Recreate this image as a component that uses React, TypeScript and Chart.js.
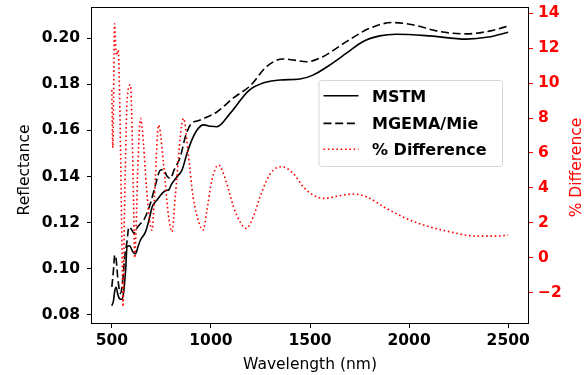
import React, { useEffect, useRef } from 'react';
import { Chart, registerables } from 'chart.js';

Chart.register(...registerables);

const mstmWavelength = [500, 508, 515, 522, 530, 540, 550, 560, 570, 577, 590, 605, 619, 632, 644, 670, 690, 704, 728, 754, 775, 787, 800, 829, 854, 879, 904, 930, 963, 1000, 1030, 1097, 1190, 1272, 1349, 1449, 1515, 1600, 1684, 1766, 1852, 1936, 2103, 2288, 2400, 2500];
const mstmReflectance = [0.0840, 0.0860, 0.0905, 0.0920, 0.0890, 0.0870, 0.0868, 0.0900, 0.1000, 0.1096, 0.1100, 0.1075, 0.1065, 0.1095, 0.1124, 0.1160, 0.1220, 0.1269, 0.1298, 0.1327, 0.1340, 0.1342, 0.1365, 0.1399, 0.1428, 0.1500, 0.1559, 0.1602, 0.1624, 0.1618, 0.1616, 0.1674, 0.1772, 0.1808, 0.1819, 0.1823, 0.1840, 0.1884, 0.1935, 0.1985, 0.2010, 0.2017, 0.2010, 0.1996, 0.2005, 0.2026];

const mgemaWavelength = [500, 508, 515, 522, 530, 544, 555, 565, 577, 586, 600, 611, 625, 644, 661, 695, 720, 745, 760, 780, 795, 815, 846, 871, 896, 946, 1030, 1112, 1200, 1282, 1364, 1420, 1483, 1565, 1684, 1801, 1917, 2018, 2153, 2288, 2417, 2500];
const mgemaReflectance = [0.0922, 0.0990, 0.1060, 0.1040, 0.0960, 0.0893, 0.0950, 0.1050, 0.1120, 0.1182, 0.1170, 0.1154, 0.1175, 0.1195, 0.1211, 0.1284, 0.1363, 0.1428, 0.1430, 0.1400, 0.1392, 0.1430, 0.1486, 0.1573, 0.1624, 0.1645, 0.1680, 0.1740, 0.1795, 0.1878, 0.1910, 0.1905, 0.1898, 0.1920, 0.1985, 0.2043, 0.2068, 0.2058, 0.2029, 0.2019, 0.2033, 0.2053];

const diffWavelength = [500, 505, 514, 518, 524, 532, 538, 545, 551, 557, 563, 568, 577, 594, 603, 610, 616, 622, 632, 645, 660, 675, 690, 703, 715, 736, 760, 785, 804, 820, 862, 885, 910, 940, 960, 980, 1005, 1038, 1080, 1114, 1147, 1178, 1214, 1248, 1282, 1315, 1357, 1415, 1466, 1516, 1566, 1667, 1717, 1785, 1885, 2003, 2103, 2204, 2338, 2439, 2500];
const diffPercent = [9.6, 6.3, 13.4, 12.5, 11.6, 11.9, 10.0, 5.5, 1.0, -2.8, 2.0, 5.0, 9.0, 9.9, 7.0, 3.0, 0.0, 1.5, 5.5, 7.98, 6.5, 4.0, 2.2, 1.58, 3.5, 7.6, 5.5, 2.5, 1.49, 3.5, 7.98, 6.0, 3.5, 2.0, 1.58, 2.73, 4.45, 5.31, 4.26, 2.92, 2.06, 1.68, 2.35, 3.49, 4.45, 5.02, 5.21, 4.83, 4.06, 3.59, 3.40, 3.59, 3.65, 3.49, 2.83, 2.16, 1.77, 1.49, 1.24, 1.24, 1.30];

const xTicks = [500, 1000, 1500, 2000, 2500];
const leftTicks = [0.08, 0.10, 0.12, 0.14, 0.16, 0.18, 0.20];
const rightTicks = [-2, 0, 2, 4, 6, 8, 10, 12, 14];
const seriesLabels = ['MSTM', 'MGEMA/Mie', '% Difference'];
const axisTitles = ['Wavelength (nm)', 'Reflectance', '% Difference'];

const FONT = 'DejaVu Sans';

const overlayPlugin = {
  id: 'overlay',
  afterDraw(chart: any) {
    const { ctx, chartArea: a } = chart;
    ctx.save();
    // axes frame
    ctx.strokeStyle = '#000';
    ctx.lineWidth = 1;
    ctx.strokeRect(a.left - 0.5, a.top - 0.5, a.right - a.left + 1, a.bottom - a.top + 1);

    // y titles (both read bottom to top)
    ctx.font = `15.5px "${FONT}"`;
    ctx.textAlign = 'center';
    ctx.textBaseline = 'middle';
    ctx.fillStyle = '#000';
    ctx.save();
    ctx.translate(25, 170);
    ctx.rotate(-Math.PI / 2);
    ctx.fillText(axisTitles[1], 0, 0);
    ctx.restore();
    ctx.save();
    ctx.fillStyle = '#ff0000';
    ctx.translate(576.5, 167.5);
    ctx.rotate(-Math.PI / 2);
    ctx.fillText(axisTitles[2], 0, 0);
    ctx.restore();

    // legend
    const bx = a.left + 226.5, by = a.top + 72, bw = 183.5, bh = 86;
    ctx.beginPath();
    if (ctx.roundRect) ctx.roundRect(bx + 0.5, by + 0.5, bw, bh, 3);
    else ctx.rect(bx + 0.5, by + 0.5, bw, bh);
    ctx.fillStyle = 'rgba(255,255,255,0.8)';
    ctx.fill();
    ctx.strokeStyle = '#d5d5d5';
    ctx.lineWidth = 1;
    ctx.stroke();
    const rows = [95.8, 123.4, 149.2];
    const legendDash = [[], [8, 3.7], [1.6, 2.7]];
    chart.data.datasets.forEach((ds: any, i: number) => {
      const y = by + (rows[i] - 80);
      ctx.beginPath();
      ctx.setLineDash(legendDash[i]);
      ctx.strokeStyle = ds.borderColor;
      ctx.lineWidth = ds.borderWidth;
      ctx.moveTo(bx + 5, y);
      ctx.lineTo(bx + 40, y);
      ctx.stroke();
      ctx.setLineDash([]);
      ctx.font = `bold 16px "${FONT}"`;
      ctx.textAlign = 'left';
      ctx.textBaseline = 'middle';
      ctx.fillStyle = '#000';
      ctx.fillText(ds.label, bx + 53.5, y + 1.7);
    });
    ctx.restore();
  },
};

export default function App() {
  const ref = useRef<HTMLCanvasElement>(null);
  useEffect(() => {
    document.body.style.margin = '0';
    const pts = (xs: number[], ys: number[]) => xs.map((x, i) => ({ x, y: ys[i] }));
    const tickFont = { family: FONT, size: 15.5, weight: 'bold' as const, lineHeight: 1 };
    const noPad = (s: any) => { s.paddingTop = 0; s.paddingBottom = 0; s.paddingLeft = 0; s.paddingRight = 0; };
    const chart = new Chart(ref.current as HTMLCanvasElement, {
      type: 'line',
      data: {
        datasets: [
          {
            label: seriesLabels[0],
            data: pts(mstmWavelength, mstmReflectance),
            yAxisID: 'y',
            borderColor: '#000000',
            borderWidth: 1.6,
            borderJoinStyle: 'round',
            pointRadius: 0,
            cubicInterpolationMode: 'monotone',
            order: 2,
          },
          {
            label: seriesLabels[1],
            data: pts(mgemaWavelength, mgemaReflectance),
            yAxisID: 'y',
            borderColor: '#000000',
            borderWidth: 1.6,
            borderDash: [8, 3.7],
            pointRadius: 0,
            cubicInterpolationMode: 'monotone',
            order: 1,
          },
          {
            label: seriesLabels[2],
            data: pts(diffWavelength, diffPercent),
            yAxisID: 'y1',
            borderColor: '#ff0000',
            borderWidth: 1.6,
            borderDash: [1.6, 2.7],
            pointRadius: 0,
            cubicInterpolationMode: 'monotone',
            order: 0,
          },
        ],
      },
      options: {
        animation: false,
        responsive: true,
        maintainAspectRatio: false,
        devicePixelRatio: 1,
        layout: { padding: { top: 8, left: 0, right: 0, bottom: 0 } },
        plugins: { legend: { display: false }, tooltip: { enabled: false } },
        scales: {
          x: {
            type: 'linear',
            min: 400,
            max: 2600,
            afterFit: (s: any) => { s.height = 52; noPad(s); },
            afterBuildTicks: (s: any) => { s.ticks = xTicks.map((v) => ({ value: v })); },
            border: { display: false },
            grid: { drawOnChartArea: false, drawTicks: true, tickLength: 5, color: '#000', lineWidth: 1 },
            ticks: { color: '#000', font: tickFont, padding: 5, maxRotation: 0, autoSkip: false, callback: (v: any) => String(v) },
            title: { display: true, text: axisTitles[0], color: '#000', font: { family: FONT, size: 15.5 }, padding: { top: 0, bottom: 1 } },
          },
          y: {
            type: 'linear',
            position: 'left',
            min: 0.0765,
            max: 0.2131,
            afterFit: (s: any) => { s.width = 92; noPad(s); },
            afterBuildTicks: (s: any) => { s.ticks = leftTicks.map((v) => ({ value: v })); },
            border: { display: false },
            grid: { drawOnChartArea: false, drawTicks: true, tickLength: 5, color: '#000', lineWidth: 1 },
            ticks: { color: '#000', font: tickFont, padding: 7, autoSkip: false, callback: (v: any) => Number(v).toFixed(2) },
          },
          y1: {
            type: 'linear',
            position: 'right',
            min: -3.735,
            max: 14.3,
            afterFit: (s: any) => { s.width = 58; noPad(s); },
            afterBuildTicks: (s: any) => { s.ticks = rightTicks.map((v) => ({ value: v })); },
            border: { display: false },
            grid: { drawOnChartArea: false, drawTicks: true, tickLength: 5, color: '#ff0000', lineWidth: 1 },
            ticks: { color: '#ff0000', font: tickFont, padding: 5, autoSkip: false, callback: (v: any) => (Number(v) < 0 ? '\u2212' + Math.abs(Number(v)) : String(v)) },
          },
        },
      },
      plugins: [overlayPlugin],
    } as any);
    return () => chart.destroy();
  }, []);
  return (
    <div style={{ width: 586, height: 375, position: 'relative' }}>
      <canvas ref={ref} />
    </div>
  );
}
